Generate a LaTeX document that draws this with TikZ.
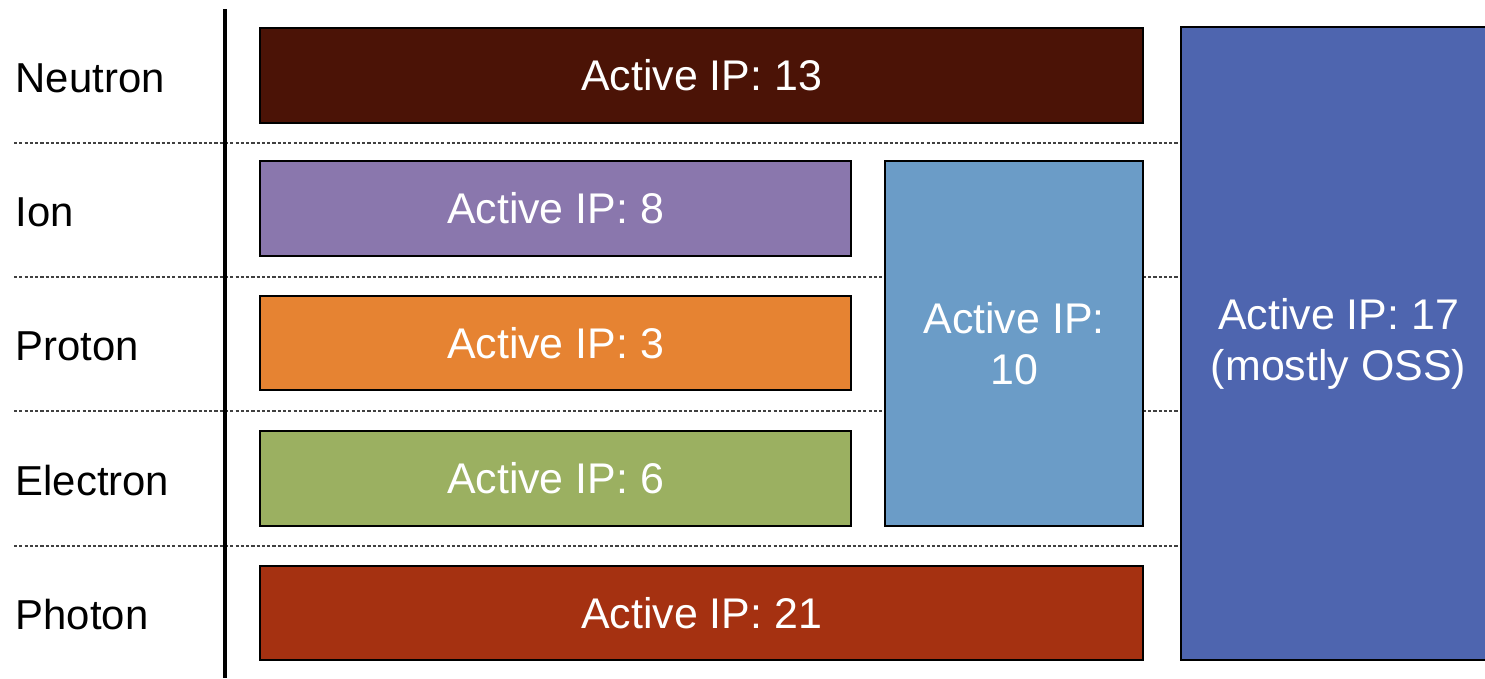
\documentclass[tikz,border=0pt]{standalone}
\usepackage{fontspec}
\setmainfont{Liberation Sans}

\definecolor{neutroncol}{HTML}{4B1306}
\definecolor{ioncol}{HTML}{8A77AD}
\definecolor{protoncol}{HTML}{E68332}
\definecolor{electroncol}{HTML}{9BB061}
\definecolor{photoncol}{HTML}{A53111}
\definecolor{sharedcol}{HTML}{6B9CC7}
\definecolor{osscol}{HTML}{4E65AF}

\begin{document}
\begin{tikzpicture}[x=0.01cm, y=-0.01cm,
    ipbox/.style={draw=black, line width=0.6pt, inner sep=0pt, text=white,
        align=center, font=\fontsize{12.2}{14.5}\selectfont},
    particle/.style={anchor=base west, inner sep=0pt,
        font=\fontsize{11.9}{14.5}\selectfont}]

    \clip (0,0) rectangle (1485,678);

    % separators
    \foreach \y in {143,277,411,546}{
        \draw[line width=0.35pt, black!75, dash pattern=on 0.9pt off 0.6pt]
            (14,\y) -- (1180,\y);
    }
    \draw[line width=1pt] (225,9) -- (225,678);

    % particles
    \foreach \name/\y in {
        Neutron/92,
        Ion/226,
        Proton/360,
        Electron/495,
        Photon/629
    }{
        \node[particle] (l\name) at (15,\y) {\name};
    }

    % boxes
    \node[ipbox, fill=neutroncol, minimum width=8.83cm, minimum height=0.95cm]
        (neutron) at (701.5,75.5) {Active IP: 13};
    \node[ipbox, fill=ioncol, minimum width=5.91cm, minimum height=0.95cm]
        (ion) at (555.5,208.5) {Active IP: 8};
    \node[ipbox, fill=protoncol, minimum width=5.91cm, minimum height=0.94cm]
        (proton) at (555.5,343) {Active IP: 3};
    \node[ipbox, fill=electroncol, minimum width=5.91cm, minimum height=0.95cm]
        (electron) at (555.5,478.5) {Active IP: 6};
    \node[ipbox, fill=photoncol, minimum width=8.83cm, minimum height=0.94cm]
        (photon) at (701.5,613) {Active IP: 21};
    \node[ipbox, fill=sharedcol, minimum width=2.58cm, minimum height=3.65cm]
        (shared) at (1014,343.5) {Active IP:\\10};
    \node[ipbox, fill=osscol, minimum width=3.15cm, minimum height=6.33cm]
        (oss) at (1338.5,343.5) {Active IP: 17\\(mostly OSS)};
\end{tikzpicture}
\end{document}
